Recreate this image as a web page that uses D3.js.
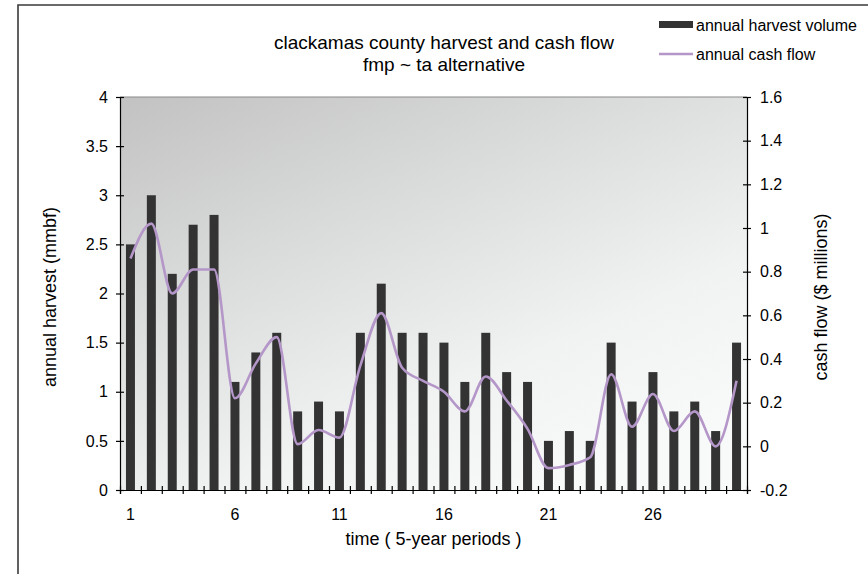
<!DOCTYPE html>
<html>
<head>
<meta charset="utf-8">
<script src="https://cdn.jsdelivr.net/npm/d3@7"></script>
<style>
  body { margin: 0; background: #fff; }
  text { font-family: "Liberation Sans", Arial, sans-serif; fill: #000; }
</style>
</head>
<body>
<div id="chart"></div>
<script>
var periods = d3.range(1, 31)
var harvest = [2.5, 3, 2.2, 2.7, 2.8, 1.1, 1.4, 1.6, 0.8, 0.9,
               0.8, 1.6, 2.1, 1.6, 1.6, 1.5, 1.1, 1.6, 1.2, 1.1,
               0.5, 0.6, 0.5, 1.5, 0.9, 1.2, 0.8, 0.9, 0.6, 1.5]
var cashFlow = [0.86, 1.02, 0.70, 0.81, 0.81, 0.22, 0.38, 0.50, 0.01, 0.075,
                0.04, 0.37, 0.61, 0.36, 0.30, 0.25, 0.16, 0.32, 0.21, 0.08,
                -0.10, -0.085, -0.05, 0.33, 0.09, 0.24, 0.07, 0.16, 0.00, 0.30]
var xLabels = [1, 6, 11, 16, 21, 26]
var leftTicks = d3.range(0, 4.01, 0.5)
var rightTicks = d3.range(-0.2, 1.61, 0.2).map(function(v) { return +v.toFixed(1) })

var W = 868, H = 574,
    plot = {left: 120, right: 747, top: 97, bottom: 490},
    colors = {bar: '#333333', line: '#b497c8', axis: '#000', frame: '#3a3a3a'}

var svg = d3.select('#chart').append('svg')
    .attr('width', W)
    .attr('height', H)

// outer chart frame (only left and top edges are visible)
svg.append('path')
    .attr('d', 'M18,' + H + 'V5H' + W)
    .attr('fill', 'none')
    .attr('stroke', colors.frame)
    .attr('stroke-width', 1.6)

var grad = svg.append('defs').append('linearGradient')
    .attr('id', 'bg')
    .attr('x1', 0).attr('y1', 0).attr('x2', 0.7).attr('y2', 1)
grad.append('stop').attr('offset', 0).attr('stop-color', '#c2c2c2')
grad.append('stop').attr('offset', 0.75).attr('stop-color', '#f1f3f3')
grad.append('stop').attr('offset', 1).attr('stop-color', '#f8f9f9')

var x = d3.scaleBand()
    .domain(periods)
    .range([plot.left, plot.right])
    .paddingInner(0.57)
    .paddingOuter(0.285)

var xEdge = d3.scaleLinear()
    .domain([0.5, 30.5])
    .range([plot.left, plot.right])

var yLeft = d3.scaleLinear()
    .domain([0, 4])
    .range([plot.bottom, plot.top])

var yRight = d3.scaleLinear()
    .domain([-0.2, 1.6])
    .range([plot.bottom, plot.top])

svg.append('rect')
    .attr('x', plot.left)
    .attr('y', plot.top)
    .attr('width', plot.right - plot.left)
    .attr('height', plot.bottom - plot.top)
    .attr('fill', 'url(#bg)')

svg.append('line')
    .attr('x1', plot.left).attr('x2', plot.right)
    .attr('y1', plot.top).attr('y2', plot.top)
    .attr('stroke', '#8a8a8a')
    .attr('stroke-width', 1.2)

svg.append('g').selectAll('rect')
    .data(harvest)
    .enter().append('rect')
    .attr('x', function(d, i) { return x(periods[i]) })
    .attr('y', function(d) { return yLeft(d) })
    .attr('width', x.bandwidth())
    .attr('height', function(d) { return yLeft(0) - yLeft(d) })
    .attr('fill', colors.bar)

var line = d3.line()
    .x(function(d, i) { return x(periods[i]) + x.bandwidth() / 2 })
    .y(function(d) { return yRight(d) })
    .curve(d3.curveMonotoneX)

svg.append('path')
    .datum(cashFlow)
    .attr('d', line)
    .attr('fill', 'none')
    .attr('stroke', colors.line)
    .attr('stroke-width', 2.6)

// plain hyphen for negatives, like the original
var fmt = function(d) { return String(d) }

// axes
var gl = svg.append('g')
    .attr('transform', 'translate(' + plot.left + ',0)')
    .call(d3.axisLeft(yLeft).tickValues(leftTicks).tickSize(4).tickPadding(8).tickFormat(fmt))
gl.selectAll('.tick line').attr('x1', 4)

var gr = svg.append('g')
    .attr('transform', 'translate(' + plot.right + ',0)')
    .call(d3.axisRight(yRight).tickValues(rightTicks).tickSize(4).tickPadding(9).tickFormat(fmt))
gr.selectAll('.tick line').attr('x1', -4)

var gb = svg.append('g')
    .attr('transform', 'translate(0,' + plot.bottom + ')')
    .call(d3.axisBottom(xEdge).tickValues(d3.range(0.5, 31, 1)).tickSize(4).tickFormat(''))
gb.selectAll('.tick line').attr('y1', -4)

var gbl = svg.append('g')
    .attr('transform', 'translate(0,' + plot.bottom + ')')
    .call(d3.axisBottom(x).tickValues(xLabels).tickSize(0).tickPadding(19))
gbl.select('.domain').remove()

svg.selectAll('.domain, .tick line').attr('stroke', colors.axis).attr('stroke-width', 1.2)
svg.selectAll('.tick text').style('font-size', '16px').style('font-family', '"Liberation Sans", Arial, sans-serif')

// titles
svg.append('text')
    .attr('x', 444).attr('y', 49)
    .attr('text-anchor', 'middle')
    .style('font-size', '19px')
    .text('clackamas county harvest and cash flow')
svg.append('text')
    .attr('x', 444).attr('y', 71)
    .attr('text-anchor', 'middle')
    .style('font-size', '19px')
    .text('fmp ~ ta alternative')

svg.append('text')
    .attr('x', (plot.left + plot.right) / 2).attr('y', 545)
    .attr('text-anchor', 'middle')
    .style('font-size', '18px')
    .text('time ( 5-year periods )')

svg.append('text')
    .attr('transform', 'translate(56,' + 297 + ') rotate(-90)')
    .attr('text-anchor', 'middle')
    .style('font-size', '18px')
    .text('annual harvest (mmbf)')

svg.append('text')
    .attr('transform', 'translate(827,' + 297 + ') rotate(-90)')
    .attr('text-anchor', 'middle')
    .style('font-size', '18px')
    .text('cash flow ($ millions)')

// legend
var legend = svg.append('g')
legend.append('rect')
    .attr('x', 659).attr('y', 21).attr('width', 34).attr('height', 7)
    .attr('fill', colors.bar)
legend.append('text')
    .attr('x', 696).attr('y', 31)
    .style('font-size', '16px')
    .text('annual harvest volume')
legend.append('line')
    .attr('x1', 659).attr('x2', 693).attr('y1', 54).attr('y2', 54)
    .attr('stroke', colors.line).attr('stroke-width', 2.6)
legend.append('text')
    .attr('x', 696).attr('y', 60)
    .style('font-size', '16px')
    .text('annual cash flow')
</script>
</body>
</html>
